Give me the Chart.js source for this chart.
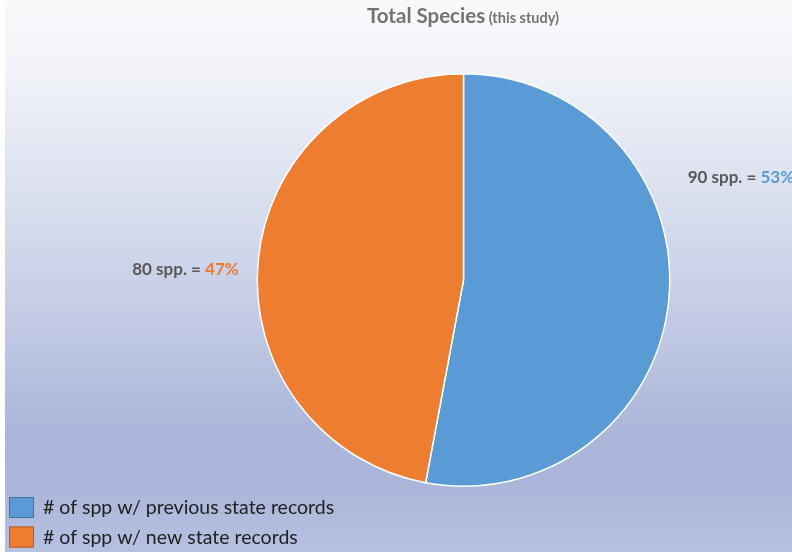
<!DOCTYPE html>
<html>
<head>
<meta charset="utf-8">
<script src="https://cdn.jsdelivr.net/npm/chart.js@4/dist/chart.umd.min.js"></script>
<style>
  html, body { margin: 0; padding: 0; background: #ffffff; }
  #wrap { width: 792px; height: 552px; position: relative; }
</style>
</head>
<body>
<div id="wrap"><canvas id="chart" width="792" height="552"></canvas></div>
<script>
// Species totals by record status
const categories = ['# of spp w/ previous state records', '# of spp w/ new state records'];
const speciesCounts = [90, 80];
const sliceColors = ['#5b9bd5', '#ed7d31'];
const swatchBorders = ['#41719c', '#ae5a21'];

const FONT = 'Lato, "Open Sans", "DejaVu Sans", sans-serif';

// Soft vertical gradient behind the whole figure, with a thin white strip on the left
const backdrop = {
  id: 'backdrop',
  beforeDraw(chart) {
    const { ctx, width, height } = chart;
    ctx.save();
    const g = ctx.createLinearGradient(0, 0, 0, height);
    g.addColorStop(0.0, '#f8f9fb');
    g.addColorStop(0.12, '#f2f4f9');
    g.addColorStop(0.35, '#dbe0ef');
    g.addColorStop(0.55, '#c6cde6');
    g.addColorStop(0.78, '#abb6da');
    g.addColorStop(0.88, '#aab5d9');
    g.addColorStop(1.0, '#b6c0e1');
    ctx.fillStyle = g;
    ctx.fillRect(0, 0, width, height);
    ctx.fillStyle = '#ffffff';
    ctx.fillRect(0, 0, 5, height);
    ctx.restore();
  }
};

// Two-part title: bold main text followed by a smaller parenthetical
const twoPartTitle = {
  id: 'twoPartTitle',
  afterDraw(chart) {
    const { ctx } = chart;
    const main = 'Total Species';
    const sub = ' (this study)';
    ctx.save();
    ctx.fillStyle = '#737373';
    ctx.textBaseline = 'alphabetic';
    ctx.font = 'bold 20.5px ' + FONT;
    const w1 = ctx.measureText(main).width;
    ctx.font = 'bold 14.5px ' + FONT;
    const w2 = ctx.measureText(sub).width;
    const x0 = 463 - (w1 + w2) / 2;
    ctx.font = 'bold 20.5px ' + FONT;
    ctx.fillText(main, x0, 23);
    ctx.font = 'bold 14.5px ' + FONT;
    ctx.fillText(sub, x0 + w1, 23);
    ctx.restore();
  }
};

// Value labels outside each slice: "N spp. = P%"
const sliceLabels = {
  id: 'sliceLabels',
  afterDatasetsDraw(chart) {
    const { ctx } = chart;
    const meta = chart.getDatasetMeta(0);
    const data = chart.data.datasets[0].data;
    const total = data.reduce((a, b) => a + b, 0);
    const spots = [
      { dx: 1.087, dy: -0.495, align: 'left' },
      { dx: -1.09, dy: -0.05, align: 'right' }
    ];
    ctx.save();
    ctx.font = 'bold 17px ' + FONT;
    ctx.textBaseline = 'middle';
    meta.data.forEach((arc, i) => {
      const r = arc.outerRadius;
      const first = data[i] + ' spp. = ';
      const second = Math.round(data[i] / total * 100) + '%';
      const w1 = ctx.measureText(first).width;
      const w2 = ctx.measureText(second).width;
      const s = spots[i];
      let x = arc.x + s.dx * r;
      const y = arc.y + s.dy * r;
      if (s.align === 'right') x -= (w1 + w2);
      ctx.textAlign = 'left';
      ctx.fillStyle = '#595959';
      ctx.fillText(first, x, y);
      ctx.fillStyle = sliceColors[i];
      ctx.fillText(second, x + w1, y);
    });
    ctx.restore();
  }
};

// Legend stacked in the lower-left corner
const cornerLegend = {
  id: 'cornerLegend',
  afterDraw(chart) {
    const { ctx } = chart;
    ctx.save();
    ctx.font = '19.5px ' + FONT;
    ctx.textBaseline = 'middle';
    chart.data.labels.forEach((label, i) => {
      const top = 497 + i * 29.5;
      ctx.fillStyle = sliceColors[i];
      ctx.fillRect(9, top, 25, 21);
      ctx.strokeStyle = swatchBorders[i];
      ctx.lineWidth = 1;
      ctx.strokeRect(9.5, top + 0.5, 24, 20);
      ctx.fillStyle = '#1f1f1f';
      ctx.fillText(label, 43, top + 11);
    });
    ctx.restore();
  }
};

new Chart(document.getElementById('chart'), {
  type: 'pie',
  data: {
    labels: categories,
    datasets: [{
      data: speciesCounts,
      backgroundColor: sliceColors,
      borderColor: '#ffffff',
      borderWidth: 1.5,
      hoverOffset: 0,
      offset: 0
    }]
  },
  options: {
    responsive: false,
    animation: false,
    events: [],
    layout: { padding: { top: 73, bottom: 65, left: 256, right: 121 } },
    plugins: {
      legend: { display: false },
      title: { display: false },
      tooltip: { enabled: false }
    }
  },
  plugins: [backdrop, twoPartTitle, sliceLabels, cornerLegend]
});
</script>
</body>
</html>
